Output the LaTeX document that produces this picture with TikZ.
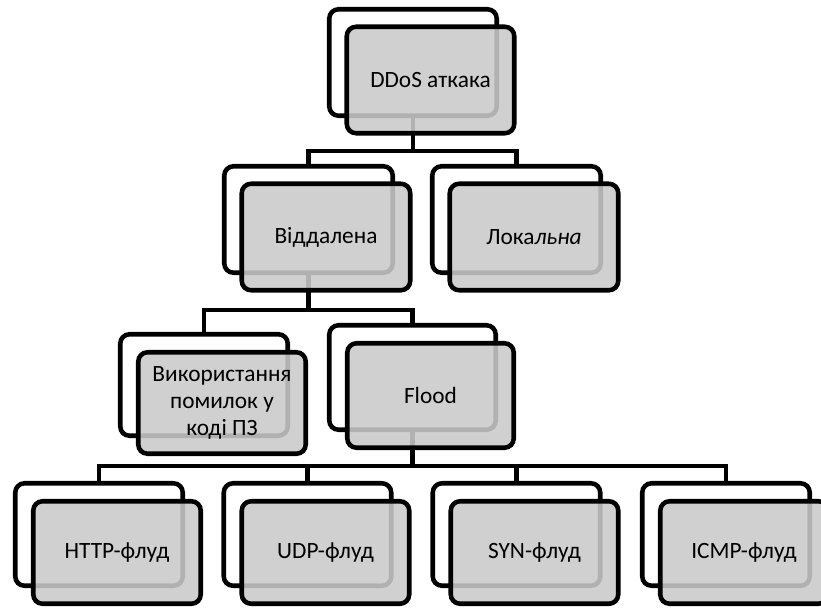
\documentclass[tikz,border=0pt]{standalone}
\usepackage{fontspec}
\setmainfont{Carlito}
\newdimen\px \px=0.75pt
\definecolor{boxgray}{RGB}{202,202,202}
\tikzset{
  back/.style={draw=black, line width=3.4pt, rounded corners=7pt, fill=white, inner sep=0pt},
  front/.style={draw=black, line width=3.4pt, rounded corners=7pt, fill=boxgray,
    fill opacity=0.88, text opacity=1, inner sep=0pt, align=center,
    font=\fontsize{17.5}{20}\selectfont},
  link/.style={draw=black, line width=3.4pt},
  sz/.style 2 args={minimum width=#1\px, minimum height=#2\px},
}
\begin{document}
\begin{tikzpicture}[x=0.75pt, y=-0.75pt]
\useasboundingbox (0,0) rectangle (821,607);
\clip (0,0) rectangle (821,607);
% back boxes
\node[back, sz={167.5}{106.5}] (b0) at (413,62.5) {};
\node[back, sz={168.5}{106.5}] (b1) at (308.5,219.5) {};
\node[back, sz={168.5}{106.5}] (b2) at (516.5,219.5) {};
\node[back, sz={167.5}{101.5}] (b3) at (204,385) {};
\node[back, sz={166.5}{104.5}] (b4) at (412.5,377.5) {};
\node[back, sz={167.5}{102.5}] (b5) at (99,534.5) {};
\node[back, sz={167.5}{102.5}] (b6) at (307.5,534.5) {};
\node[back, sz={167.5}{102.5}] (b7) at (516.5,534.5) {};
\node[back, sz={167.5}{102.5}] (b8) at (726,534.5) {};
% bus levels
\coordinate (bus1) at (0,151);
\coordinate (bus2) at (0,310);
\coordinate (bus3) at (0,466);
% connectors
\draw[link] (b0.south) -- (b0.south |- bus1) -| (b1.north);
\draw[link] (b0.south |- bus1) -| (b2.north);
\draw[link] (b1.south) -- (b1.south |- bus2) -| (b3.north);
\draw[link] (b1.south |- bus2) -| (b4.north);
\draw[link] (b4.south) -- (b4.south |- bus3) -| (b5.north);
\draw[link] (b4.south |- bus3) -| (b6.north);
\draw[link] (b4.south |- bus3) -| (b7.north);
\draw[link] (b4.south |- bus3) -| (b8.north);
% front boxes
\node[front, sz={167.5}{106.5}] (f0) at (430.5,80) {DDoS аткака};
\node[front, sz={168.5}{106.5}] (f1) at (326,237) {Віддалена};
\node[front, sz={168.5}{106.5}] (f2) at (534,237) {Лока\textit{льна}};
\node[front, sz={167.5}{101.5}] (f3) at (222,403) {Використання\\помилок у\\коді ПЗ};
\node[front, sz={166.5}{104.5}] (f4) at (430.5,395.5) {Flood};
\node[front, sz={167.5}{102.5}] (f5) at (117,552.5) {HTTP-флуд};
\node[front, sz={167.5}{102.5}] (f6) at (325.5,552.5) {UDP-флуд};
\node[front, sz={167.5}{102.5}] (f7) at (534.5,552.5) {SYN-флуд};
\node[front, sz={167.5}{102.5}] (f8) at (744,552.5) {ICMP-флуд};
\end{tikzpicture}
\end{document}
